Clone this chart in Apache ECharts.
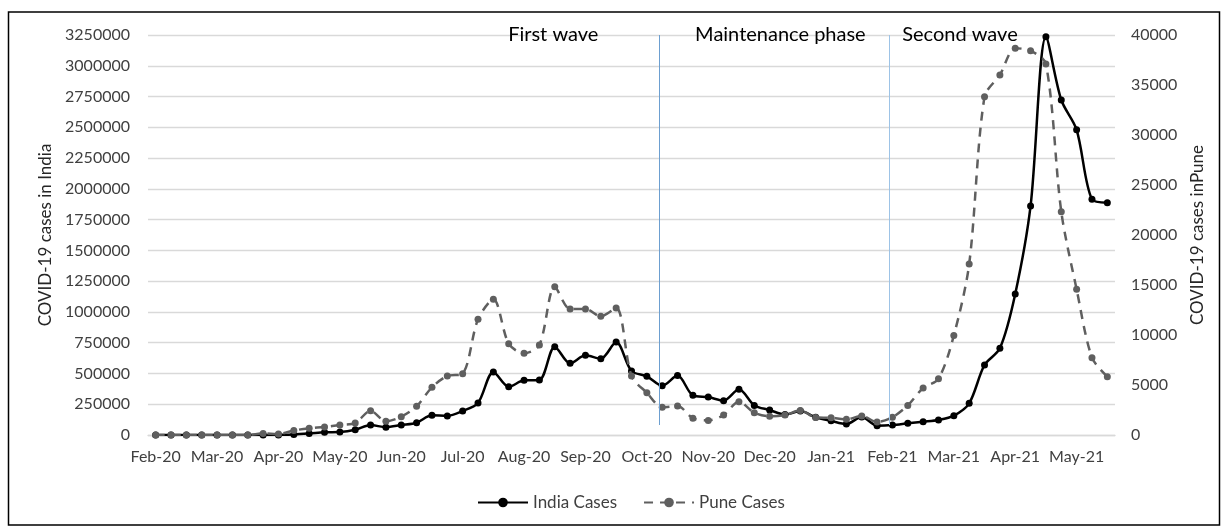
<!DOCTYPE html>
<html>
<head>
<meta charset="utf-8">
<script src="https://cdn.jsdelivr.net/npm/echarts@6/dist/echarts.min.js"></script>
<style>
html,body{margin:0;padding:0;background:#fff;}
#chart{width:1225px;height:527px;}
</style>
</head>
<body>
<div id="chart"></div>
<script>
// Month tick labels (one every 4 weekly points)
var monthLabels = ['Feb-20','Mar-20','Apr-20','May-20','Jun-20','Jul-20','Aug-20','Sep-20','Oct-20','Nov-20','Dec-20','Jan-21','Feb-21','Mar-21','Apr-21','May-21'];

// Weekly COVID-19 cases in India (left axis)
var indiaCases = [0,0,0,0,0,0,0,0,1000,4000,
  12000,22000,24000,42000,81000,63000,81000,100000,160000,155000,
  195000,260000,512000,392000,444000,447000,718000,582000,647000,620000,
  755000,520000,477000,400000,483000,322000,308000,279000,371000,240000,
  203000,166000,194000,144000,115000,89000,147000,76000,81000,95000,
  108000,122000,157000,257000,569000,704000,1146000,1861000,3236000,2722000,
  2480000,1915000,1888000];

// Weekly COVID-19 cases in Pune (right axis)
var puneCases = [0,0,0,0,0,0,0,150,100,450,
  670,800,1000,1200,2420,1380,1830,2870,4770,5900,
  6130,11570,13570,9130,8170,9000,14830,12600,12600,11870,
  12700,5900,4220,2780,2900,1670,1460,2000,3330,2230,
  1870,2000,2460,1750,1720,1570,1900,1300,1780,2960,
  4700,5620,9950,17100,33830,36000,38670,38430,37100,22330,
  14570,7730,5830];

// Phase annotations
var phaseNames = ['First wave','Maintenance phase','Second wave'];
var phaseCenters = [25.9, 40.7, 52.4];
var phaseDividers = [32.83, 47.77];

var categories = [];
for (var i = 0; i < indiaCases.length; i++) {
  categories.push(i % 4 === 0 ? monthLabels[i / 4] : '');
}

var FONT = 'Lato';
var plain = function (v) { return String(v); };
var chart = echarts.init(document.getElementById('chart'), null, {renderer: 'canvas'});

var option = {
  animation: false,
  backgroundColor: '#fff',
  textStyle: {fontFamily: FONT},
  graphic: [{
    type: 'rect',
    shape: {x: 8.5, y: 12, width: 1211, height: 513},
    style: {fill: 'none', stroke: '#000', lineWidth: 1.5},
    silent: true, z: -1
  }],
  grid: {left: 148, right: 110, top: 35, bottom: 92},
  legend: {
    left: 472, top: 489,
    itemWidth: 50, itemHeight: 12, itemGap: 26,
    textStyle: {fontFamily: FONT, fontSize: 17, color: '#404040'},
    data: ['India Cases', 'Pune Cases']
  },
  xAxis: [{
    type: 'category',
    data: categories,
    boundaryGap: true,
    axisLine: {show: true, lineStyle: {color: '#d9d9d9', width: 1.3}},
    axisTick: {show: false},
    axisLabel: {interval: 0, margin: 14, fontFamily: FONT, fontSize: 16, color: '#404040'}
  }, {
    type: 'value',
    min: -0.5, max: indiaCases.length - 0.5,
    show: false
  }],
  yAxis: [{
    type: 'value',
    min: 0, max: 3250000, interval: 250000,
    name: 'COVID-19 cases in India',
    nameLocation: 'middle', nameRotate: 90, nameGap: 84,
    nameTextStyle: {fontFamily: FONT, fontSize: 17, color: '#262626'},
    axisLine: {show: false}, axisTick: {show: false},
    axisLabel: {margin: 18, fontFamily: FONT, fontSize: 16, color: '#404040', formatter: plain},
    splitLine: {lineStyle: {color: '#d9d9d9', width: 1.3}}
  }, {
    type: 'value',
    min: 0, max: 40000, interval: 5000,
    position: 'right',
    name: 'COVID-19 cases inPune',
    nameLocation: 'middle', nameRotate: 90, nameGap: 74,
    nameTextStyle: {fontFamily: FONT, fontSize: 17, color: '#262626'},
    axisLine: {show: false}, axisTick: {show: false},
    axisLabel: {margin: 16, fontFamily: FONT, fontSize: 16, color: '#404040', formatter: plain},
    splitLine: {show: false}
  }],
  series: [{
    name: 'India Cases',
    type: 'line',
    xAxisIndex: 0, yAxisIndex: 0,
    data: indiaCases,
    smooth: 0.3,
    symbol: 'circle', symbolSize: 7,
    itemStyle: {color: '#000'},
    lineStyle: {color: '#000', width: 2.5},
    z: 3
  }, {
    name: 'Pune Cases',
    type: 'line',
    xAxisIndex: 0, yAxisIndex: 1,
    data: puneCases,
    smooth: 0.3,
    symbol: 'circle', symbolSize: 7,
    itemStyle: {color: '#5f5f5f'},
    lineStyle: {color: '#5f5f5f', width: 2.5, type: [9, 7]},
    z: 4
  }, {
    name: 'phases',
    type: 'line',
    xAxisIndex: 1, yAxisIndex: 0,
    data: [],
    silent: true,
    markLine: {
      symbol: 'none', silent: true,
      label: {show: false},
      data: [
        [{coord: [phaseDividers[0], 3250000], lineStyle: {color: '#6d9fd0', width: 1, type: 'solid'}},
         {coord: [phaseDividers[0], 81000]}],
        [{coord: [phaseDividers[1], 3250000], lineStyle: {color: '#9dc3e6', width: 1, type: 'solid'}},
         {coord: [phaseDividers[1], 81000]}]
      ]
    },
    markPoint: {
      silent: true,
      symbol: 'rect', symbolSize: 1,
      itemStyle: {color: 'rgba(0,0,0,0)'},
      label: {show: true, position: 'inside', fontFamily: FONT, fontSize: 20, color: '#000',
        formatter: function (p) { return p.name; }},
      data: phaseNames.map(function (n, k) {
        return {name: n, coord: [phaseCenters[k], 3250000]};
      })
    }
  }]
};
chart.setOption(option);
</script>
</body>
</html>
